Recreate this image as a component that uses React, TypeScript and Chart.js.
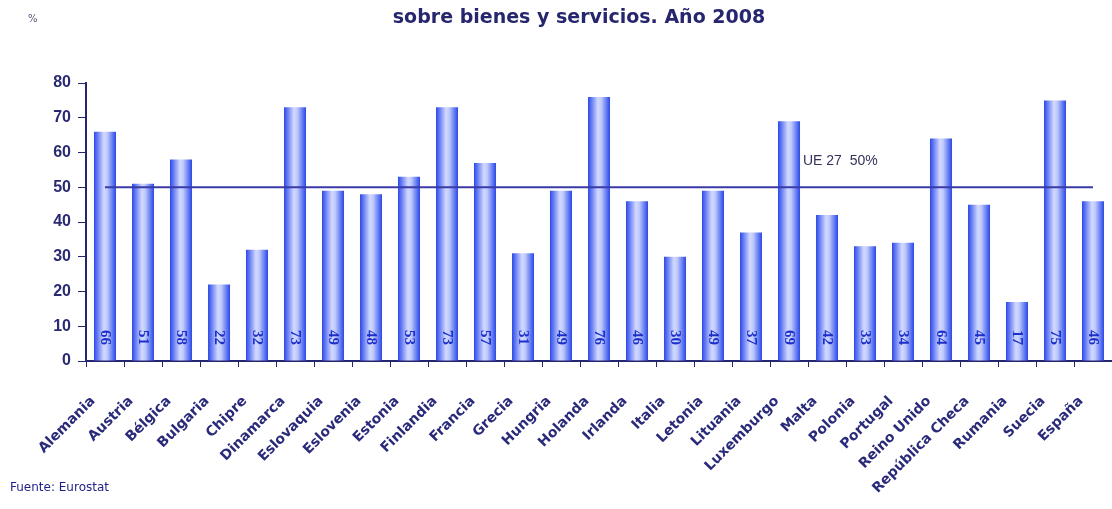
import React, { useEffect, useRef } from "react";
import { Chart, registerables } from "chart.js";

Chart.register(...registerables);

const categories: string[] = [
  "Alemania", "Austria", "Bélgica", "Bulgaria", "Chipre", "Dinamarca", "Eslovaquia",
  "Eslovenia", "Estonia", "Finlandia", "Francia", "Grecia", "Hungria", "Holanda",
  "Irlanda", "Italia", "Letonia", "Lituania", "Luxemburgo", "Malta", "Polonia",
  "Portugal", "Reino Unido", "República Checa", "Rumania", "Suecia", "España",
];
const values: number[] = [
  66, 51, 58, 22, 32, 73, 49, 48, 53, 73, 57, 31, 49, 76, 46, 30, 49, 37, 69, 42, 33, 34, 64, 45, 17, 75, 46,
];
const euAverage: number[] = categories.map(() => 50);
const yTicks: number[] = [0, 10, 20, 30, 40, 50, 60, 70, 80];
const titleText = "sobre bienes y servicios. Año 2008";
const refLabel = "UE 27  50%";
const sourceText = "Fuente: Eurostat";
const unitText = "%";

const NAVY = "#26266e";
const BAR_PCT = 0.58;

const textPlugin = {
  id: "texts",
  afterDatasetsDraw(chart: any) {
    const ctx = chart.ctx;
    const xs = chart.scales.x;
    const ys = chart.scales.y;
    ctx.save();
    const meta = chart.getDatasetMeta(0);
    ctx.fillStyle = "#1c2fc8";
    ctx.font = "bold 15px 'Liberation Serif'";
    ctx.textAlign = "left";
    ctx.textBaseline = "middle";
    meta.data.forEach((bar: any, i: number) => {
      ctx.save();
      ctx.translate(bar.x, ys.getPixelForValue(0) - 31);
      ctx.rotate(Math.PI / 2);
      ctx.fillText(String(values[i]), 0, 0);
      ctx.restore();
    });
    ctx.fillStyle = "#33335e";
    ctx.font = "14px 'Liberation Sans'";
    ctx.textAlign = "left";
    ctx.textBaseline = "middle";
    ctx.fillText(refLabel, xs.getPixelForValue(18) + 14, ys.getPixelForValue(50) - 26);
    ctx.restore();
  },
  afterDraw(chart: any) {
    const ctx = chart.ctx;
    ctx.save();
    ctx.fillStyle = NAVY;
    ctx.font = "bold 19px 'DejaVu Sans'";
    ctx.textAlign = "center";
    ctx.textBaseline = "middle";
    ctx.fillText(titleText, 579, 18);
    ctx.fillStyle = "#555577";
    ctx.font = "10px 'DejaVu Sans'";
    ctx.textAlign = "left";
    ctx.fillText(unitText, 28, 19);
    ctx.fillStyle = "#1e1e86";
    ctx.font = "12px 'DejaVu Sans'";
    ctx.fillText(sourceText, 10, 488);
    ctx.restore();
  },
};

function barGradient(c: any) {
  const chart = c.chart;
  const xs = chart.scales?.x;
  if (!xs || c.dataIndex === undefined || !chart.chartArea) return "#7088f0";
  const cx = xs.getPixelForValue(c.dataIndex);
  const w = (xs.width / categories.length) * BAR_PCT;
  const g = chart.ctx.createLinearGradient(cx - w / 2, 0, cx + w / 2, 0);
  g.addColorStop(0, "#2c48e8");
  g.addColorStop(0.2, "#7488f4");
  g.addColorStop(0.45, "#d2d9ff");
  g.addColorStop(0.6, "#c0cafd");
  g.addColorStop(0.85, "#6078f0");
  g.addColorStop(1, "#2c48e8");
  return g;
}

export default function App() {
  const ref = useRef<HTMLCanvasElement>(null);
  useEffect(() => {
    document.body.style.margin = "0";
    const canvas = ref.current!;
    const chart = new Chart(canvas, {
      type: "bar",
      data: {
        labels: categories,
        datasets: [
          {
            type: "bar",
            data: values,
            backgroundColor: barGradient as any,
            borderWidth: 0,
            barPercentage: BAR_PCT,
            categoryPercentage: 1,
            order: 2,
          },
          {
            type: "line",
            data: euAverage,
            borderColor: "#3a3aa8",
            borderWidth: 2,
            pointRadius: 0,
            fill: false,
            order: 1,
          } as any,
        ],
      },
      plugins: [textPlugin],
      options: {
        responsive: false,
        animation: false,
        devicePixelRatio: 1,
        layout: { padding: { top: 83, right: -5, left: 0, bottom: 0 } },
        plugins: { legend: { display: false }, tooltip: { enabled: false }, title: { display: false } },
        scales: {
          x: {
            offset: true,
            grid: {
              display: true,
              drawOnChartArea: false,
              drawTicks: true,
              tickLength: 6,
              color: NAVY,
              offset: true,
            },
            border: { display: true, color: NAVY, width: 2 },
            ticks: {
              autoSkip: false,
              maxRotation: 45,
              minRotation: 45,
              color: "#2a2a7a",
              font: { family: "'DejaVu Sans'", size: 14, weight: "bold" },
              padding: 26,
              labelOffset: -12,
            },
            afterFit(scale: any) {
              scale.height = 148;
              scale.paddingLeft = 0;
              scale.paddingRight = 0;
            },
          },
          y: {
            min: 0,
            max: 80,
            afterBuildTicks(scale: any) {
              scale.ticks = yTicks.map((v) => ({ value: v }));
            },
            grid: {
              display: true,
              drawOnChartArea: false,
              drawTicks: true,
              tickLength: 8,
              color: NAVY,
            },
            border: { display: true, color: NAVY, width: 2 },
            ticks: {
              color: "#2a2a72",
              font: { family: "'Liberation Sans'", size: 16, weight: "bold" },
              padding: 7,
            },
            afterFit(scale: any) {
              scale.width = 86;
              scale.paddingTop = 0;
              scale.paddingBottom = 0;
            },
          },
        },
      },
    });
    return () => chart.destroy();
  }, []);
  return <canvas ref={ref} width={1112} height={509} style={{ display: "block" }} />;
}
